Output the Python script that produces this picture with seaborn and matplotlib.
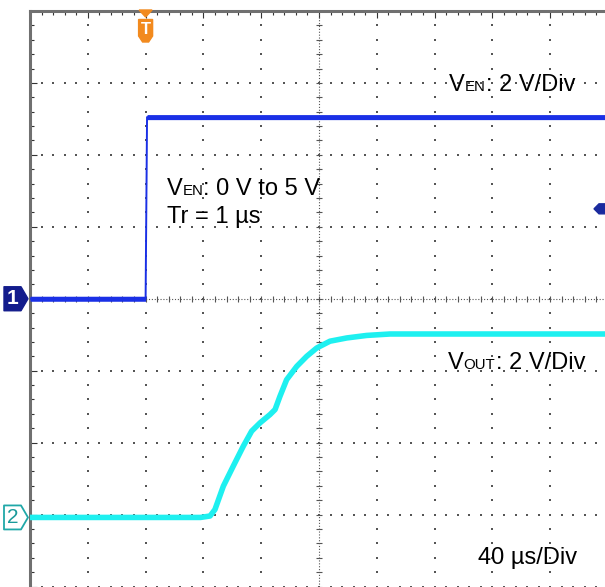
import numpy as np
import matplotlib
matplotlib.use("Agg")
import matplotlib.pyplot as plt
import seaborn as sns
from matplotlib.patches import Polygon
from matplotlib.transforms import IdentityTransform

# ---------------- data ----------------
us_per_div = 40          # time base
v_per_div = 2            # both channels
trigger_time = -120      # us
trigger_level = 2.5      # V on CH1
ch1_offset_div = 0.0
ch2_offset_div = -3.04

en_time = [-200, -120, -119, 200]
en_volt = [0.0, 0.0, 5.05, 5.05]

out_time = [-200, -82, -75.4, -72, -66.2, -59.3, -52.4, -46.6, -40.8, -33.9,
            -30.4, -27, -22.4, -15.4, -8.5, -1.6, 7.6, 19.2, 33, 49.1, 80, 200]
out_volt = [0.0, 0.0, 0.04, 0.22, 0.87, 1.43, 1.98, 2.40, 2.63, 2.86,
            3.00, 3.37, 3.83, 4.20, 4.48, 4.71, 4.90, 4.99, 5.06, 5.10, 5.10, 5.10]

label_ch1 = [("V", False), ("EN", True), (": 2 V/Div", False)]
label_cond1 = [("V", False), ("EN", True), (": 0 V to 5 V", False)]
label_cond2 = [("Tr = 1 µs", False)]
label_ch2 = [("V", False), ("OUT", True), (": 2 V/Div", False)]
label_time = [("40 µs/Div", False)]

# ---------------- style ----------------
sns.set_style("white")
plt.rcParams["font.family"] = ["Liberation Sans", "DejaVu Sans"]

W, H = 605, 587
fig = plt.figure(figsize=(W / 100, H / 100), dpi=100)
ax = fig.add_axes([30 / W, 0.5 / H, 578 / W, 575.5 / H])
ax.set_xlim(-5 * us_per_div, 5 * us_per_div)
ax.set_ylim(-4, 4)

BLUE = "#1a30e6"
CYAN = "#1ef0f0"
GRID = "#555555"

# grid dots every 0.2 div
xminor = np.arange(-5, 5.001, 0.2) * us_per_div
yminor = np.arange(-4, 4.001, 0.2)
for k in range(-4, 5):
    if k == 0:
        continue
    xm = k * us_per_div
    ax.scatter(np.full_like(yminor, xm), yminor, s=1.6, marker="s", color=GRID,
               linewidths=0, zorder=1, clip_on=False)
for k in range(-4, 4):
    if k == 0:
        continue
    ax.scatter(xminor, np.full_like(xminor, k), s=1.6, marker="s", color=GRID,
               linewidths=0, zorder=1, clip_on=False)
# centre lines
ax.axvline(0, ls=(0, (1, 1.6)), lw=0.8, color=GRID, zorder=1)
ax.axhline(0, ls=(0, (1, 1.6)), lw=0.8, color=GRID, zorder=1)
ax.scatter(np.zeros_like(yminor), yminor, s=14, marker="_", color=GRID,
           linewidths=0.8, zorder=1)
ax.scatter(xminor, np.zeros_like(xminor), s=14, marker="|", color=GRID,
           linewidths=0.8, zorder=1)

# frame
for side in ["right", "bottom"]:
    ax.spines[side].set_visible(False)
for side in ["left", "top"]:
    ax.spines[side].set_color("#707070")
    ax.spines[side].set_linewidth(2.2)
ax.set_xticks(np.arange(-5, 5.001, 1) * us_per_div)
ax.set_xticks(xminor, minor=True)
ax.set_yticks(np.arange(-4, 4.001, 1))
ax.set_yticks(yminor, minor=True)
ax.tick_params(which="both", direction="in", left=True, top=True, bottom=False,
               right=False, labelleft=False, labelbottom=False, labeltop=False,
               color="#333333", width=0.8)
ax.tick_params(which="major", length=5)
ax.tick_params(which="minor", length=3)
ax.grid(False)

# traces
en_div = np.array(en_volt) / v_per_div + ch1_offset_div
out_div = np.array(out_volt) / v_per_div + ch2_offset_div
band1 = 0.035
ax.fill_between(en_time, en_div - band1, en_div + band1, color=BLUE, lw=0, zorder=3)
sns.lineplot(x=en_time, y=en_div, ax=ax, color=BLUE, lw=1.4, estimator=None,
             sort=False, zorder=3)
sns.lineplot(x=out_time, y=out_div, ax=ax, color=CYAN, lw=4.0, estimator=None,
             sort=False, zorder=3)
ax.set_xlabel("")
ax.set_ylabel("")

ident = IdentityTransform()


def disp(x, y):
    return ax.transData.transform((x, y))


# channel 1 marker
_, y1 = disp(0, ch1_offset_div)
fig.patches.append(Polygon([(4, y1 + 12), (21, y1 + 12), (28, y1), (21, y1 - 12), (4, y1 - 12)],
                           closed=True, transform=ident, facecolor="#131c8c",
                           edgecolor="#131c8c", lw=1, joinstyle="round"))
fig.text(12.5, y1, "1", transform=ident, color="white", fontsize=15,
         fontweight="bold", ha="center", va="center")

# channel 2 marker
_, y2 = disp(0, ch2_offset_div)
fig.patches.append(Polygon([(4, y2 + 12), (21, y2 + 12), (28, y2), (21, y2 - 12), (4, y2 - 12)],
                           closed=True, transform=ident, facecolor="white",
                           edgecolor="#20a8a8", lw=1.3, joinstyle="round"))
fig.text(13, y2, "2", transform=ident, color="#1a9a9a", fontsize=15,
         ha="center", va="center")

# trigger time marker
xt, _ = disp(trigger_time, 0)
ORANGE = "#f28a1e"
fig.patches.append(Polygon([(xt - 6.5, H - 10), (xt + 6.5, H - 10), (xt, H - 17)],
                           closed=True, transform=ident, facecolor=ORANGE, edgecolor=ORANGE))
fig.patches.append(Polygon([(xt - 7, H - 19.5), (xt + 7, H - 19.5), (xt + 7, H - 36),
                            (xt + 3, H - 42), (xt - 3, H - 42), (xt - 7, H - 36)],
                           closed=True, transform=ident, facecolor=ORANGE, edgecolor=ORANGE))
fig.text(xt, H - 29.5, "T", transform=ident, color="white", fontsize=12,
         fontweight="bold", ha="center", va="center")

# trigger level marker
_, yl = disp(0, trigger_level / v_per_div + ch1_offset_div)
fig.patches.append(Polygon([(594, yl), (599, yl + 5), (606, yl + 5), (606, yl - 5), (599, yl - 5)],
                           closed=True, transform=ident, facecolor="#1a2a9e", edgecolor="#1a2a9e"))

# text labels
renderer = fig.canvas.get_renderer()
BIG, SMALL = 17, 10.8


def rich_text(x_img, base_img, pieces):
    x = x_img
    for s, small in pieces:
        t = fig.text(x, H - base_img, s, transform=ident, fontsize=SMALL if small else BIG,
                     va="baseline", ha="left", color="black", zorder=5)
        bb = t.get_window_extent(renderer=renderer)
        x = bb.x1


rich_text(449, 91, label_ch1)
rich_text(166.5, 195, label_cond1)
rich_text(167, 223.3, label_cond2)
rich_text(448, 369.3, label_ch2)
rich_text(478, 564.3, label_time)

fig.savefig("out.png", dpi=100)
